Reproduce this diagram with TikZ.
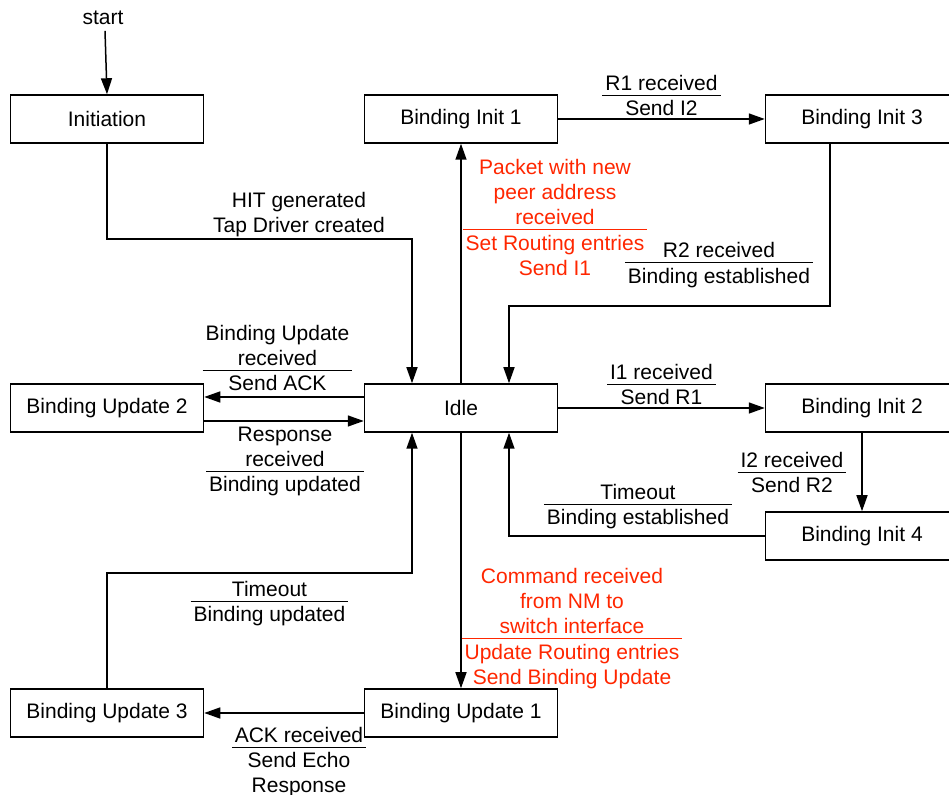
\documentclass[tikz,border=0pt]{standalone}
\usepackage{fontspec}
\setmainfont{Liberation Sans}
\usetikzlibrary{arrows.meta}
\definecolor{evtred}{RGB}{255,38,0}

% transition label: condition over a rule, action below it
\newcommand\trans[2]{%
  \begin{tabular}{@{\hspace{1.5pt}}c@{\hspace{1.5pt}}}#1\\[-1.5pt]\hline\rule{0pt}{10pt}#2\end{tabular}}

\begin{document}
\begin{tikzpicture}[x=0.5pt,y=-0.5pt,
  state/.style={draw,line width=0.75pt,minimum width=96.5pt,minimum height=24pt,inner sep=0pt},
  arr/.style={-{Triangle[length=8pt,width=5.5pt]},line width=0.75pt},
  lbl/.style={inner sep=0pt,font=\fontsize{10.5}{12.5}\selectfont},
  red lbl/.style={lbl,text=evtred}]
\useasboundingbox (0,0) rectangle (949,795);
\clip (0,0) rectangle (949,795);

\begin{scope}[every node/.append style={font=\fontsize{10.5}{12.5}\selectfont}]
\node[state] (init) at (107,119)   {Initiation};
\node[state] (bi1)  at (461,119)   {Binding Init 1};
\node[state] (bi3)  at (862,119)   {Binding Init 3};
\node[state] (bu2)  at (107,408)   {Binding Update 2};
\node[state] (idle) at (461,408)   {Idle};
\node[state] (bi2)  at (862,408)   {Binding Init 2};
\node[state] (bi4)  at (862,536)   {Binding Init 4};
\node[state] (bu3)  at (107,713)   {Binding Update 3};
\node[state] (bu1)  at (461,713)   {Binding Update 1};
\end{scope}
\node[lbl] (start) at (103,18) {start};

% bend points of the routed connectors
\coordinate (c1) at (412,239);
\coordinate (c2) at (830,306);
\coordinate (c3) at (509,306);
\coordinate (c4) at (412,573);

% connectors
\draw[arr] ([xshift=1pt,yshift=-2.8pt]start.south) -- (init.north);
\draw[arr] (init.south) |- (c1) -- (c1 |- idle.north);
\draw[arr] (bi1) -- (bi3);
\draw[arr] (idle.north) -- (bi1.south);
\draw[arr] (bi3.south -| c2) -- (c2) -- (c3) -- (c3 |- idle.north);
\draw[arr] ([yshift=5.5pt]idle.west) -- ([yshift=5.5pt]bu2.east);
\draw[arr] ([yshift=-6.5pt]bu2.east) -- ([yshift=-6.5pt]idle.west);
\draw[arr] (idle) -- (bi2);
\draw[arr] (bi2) -- (bi4);
\draw[arr] (bi4.west) -| (c3 |- idle.south);
\draw[arr] (idle.south) -- (bu1.north);
\draw[arr] (bu1) -- (bu3);
\draw[arr] (bu3.north) |- (c4) -- (c4 |- idle.south);

% transition labels
\node[lbl,align=center] (tInit) at (299,214.5) {HIT generated\\Tap Driver created};
\node[lbl] (tR1) at (661.5,98) {\trans{R1 received}{Send I2}};
\node[red lbl] (tPkt) at (555,220) {\trans{Packet with new\\peer address\\received}{Set Routing entries\\Send I1}};
\node[lbl] (tR2) at (719,265.5) {\trans{R2 received}{Binding established}};
\node[lbl] (tBU) at (277.5,360.6) {\trans{Binding Update\\received}{Send ACK}};
\node[lbl] (tResp) at (285,461.6) {\trans{Response\\received}{Binding updated}};
\node[lbl] (tI1) at (661.5,387) {\trans{I1 received}{Send R1}};
\node[lbl] (tI2) at (792,475) {\trans{I2 received}{Send R2}};
\node[lbl] (tTo1) at (638,507) {\trans{Timeout}{Binding established}};
\node[lbl] (tTo2) at (269.5,604) {\trans{Timeout}{Binding updated}};
\node[red lbl] (tCmd) at (572,629) {\trans{Command received\\from NM to\\switch interface}{Update Routing entries\\Send Binding Update}};
\node[lbl] (tAck) at (299,762.6) {\trans{ACK received}{Send Echo\\Response}};
\end{tikzpicture}
\end{document}
